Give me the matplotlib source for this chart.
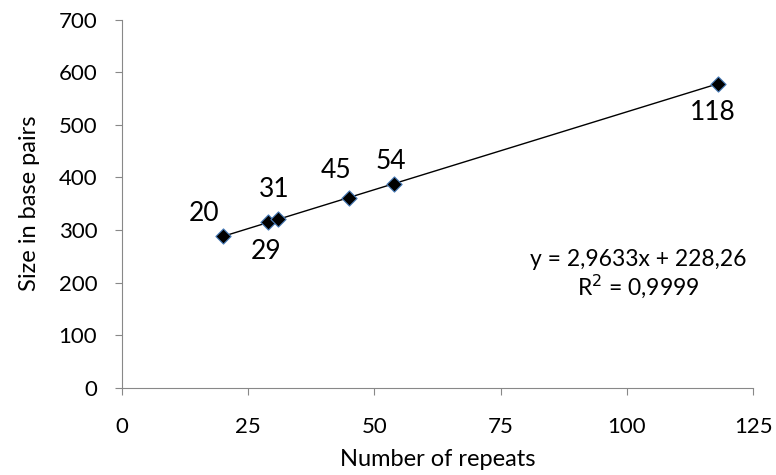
import numpy as np
import matplotlib.pyplot as plt

plt.rcParams['font.family'] = ['Lato', 'DejaVu Sans']

repeats = [20, 29, 31, 45, 54, 118]
sizes = [288, 315, 320, 361, 387, 578]
labels = ['20', '29', '31', '45', '54', '118']
label_offsets = [(-13.5, 16.3), (-1.7, -20.9), (-3.1, 21.4), (-9, 19.9), (-2.9, 16), (-3.6, -20.6)]

slope, intercept = 2.9633, 228.26

fig = plt.figure(figsize=(7.76, 4.75), dpi=100)
ax = fig.add_axes([0.1566, 0.1838, 0.8141, 0.775])

# trendline
xs = np.array([min(repeats), max(repeats)])
ax.plot(xs, slope * xs + intercept, color='black', lw=1, zorder=2)

ax.scatter(repeats, sizes, marker='D', s=60, color='black',
           edgecolors='#4a7ebb', linewidths=0.8, zorder=3)

for x, y, lab, (dx, dy) in zip(repeats, sizes, labels, label_offsets):
    ax.annotate(lab, (x, y), xytext=(dx, dy), textcoords='offset points',
                ha='center', va='center', fontsize=19)

ax.text(0.818, 0.308, 'y = 2,9633x + 228,26\nR$^2$ = 0,9999', transform=ax.transAxes,
        ha='center', va='center', fontsize=16.5, linespacing=1.1)

ax.set_xlim(0, 125)
ax.set_ylim(0, 700)
ax.set_xticks(np.arange(0, 126, 25))
ax.set_yticks(np.arange(0, 701, 100))
ax.tick_params(labelsize=16, color='#888888', length=5)
ax.tick_params(axis='x', pad=16)
ax.tick_params(axis='y', pad=12.5)
ax.set_xlabel('Number of repeats', fontsize=17, labelpad=9)
ax.set_ylabel('Size in base pairs', fontsize=17, labelpad=13)

for side in ['top', 'right']:
    ax.spines[side].set_visible(False)
for side in ['left', 'bottom']:
    ax.spines[side].set_color('#888888')

fig.savefig('out.png', dpi=100)
